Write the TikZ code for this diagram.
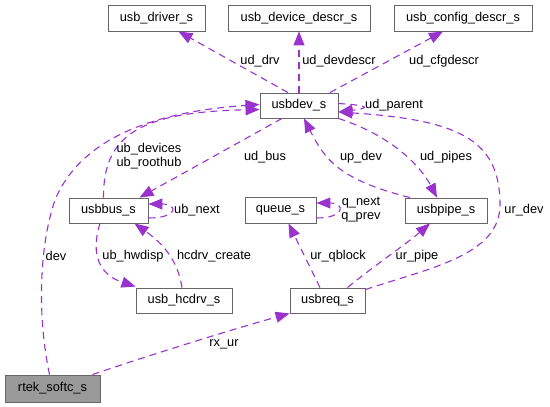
\documentclass[tikz,border=0pt]{standalone}
\usepackage{fontspec}
\setmainfont{Liberation Sans}
\usetikzlibrary{arrows.meta}
\definecolor{edgec}{HTML}{9A32CD}
\definecolor{boxc}{HTML}{666666}
\definecolor{fillc}{HTML}{999999}
\tikzset{
  cls/.style={draw=boxc, line width=0.9pt, fill=white, rectangle, inner sep=0pt,
    font=\fontsize{12.8}{14}\selectfont},
  lbl/.style={inner sep=0pt, font=\fontsize{12.8}{14}\selectfont, align=center},
  rel/.style={draw=edgec, line width=1.1pt, dash pattern=on 7pt off 5pt,
    -{Triangle[length=14pt,width=11pt]}, fill=none},
}
\begin{document}
\begin{tikzpicture}[x=1pt,y=-1pt]
\useasboundingbox (0,0) rectangle (550,407);
% nodes
\node[cls, minimum width=97pt, minimum height=26pt] (drv) at (156.5,18) {usb\_driver\_s};
\node[cls, minimum width=142pt, minimum height=26pt] (devd) at (299,18) {usb\_device\_descr\_s};
\node[cls, minimum width=138pt, minimum height=26pt] (cfgd) at (463,18) {usb\_config\_descr\_s};
\node[cls, minimum width=78pt, minimum height=25pt] (dev) at (299,105.5) {usbdev\_s};
\node[cls, minimum width=79pt, minimum height=25pt] (bus) at (108.5,210.5) {usbbus\_s};
\node[cls, minimum width=71pt, minimum height=26pt] (queue) at (280.5,210) {queue\_s};
\node[cls, minimum width=82pt, minimum height=25pt] (pipe) at (446,210.5) {usbpipe\_s};
\node[cls, minimum width=96pt, minimum height=25pt] (hcd) at (184,300.5) {usb\_hcdrv\_s};
\node[cls, minimum width=75pt, minimum height=25pt] (req) at (327.5,300.5) {usbreq\_s};
\node[cls, fill=fillc, minimum width=95pt, minimum height=27pt] (rtek) at (52.5,388.5) {rtek\_softc\_s};
% edges
\draw[rel] ([xshift=-11pt]dev.north) -- ([xshift=22pt]drv.south);
\draw[rel] (dev.north) -- (devd.south);
\draw[rel] ([xshift=31pt]dev.north) -- ([xshift=-20pt]cfgd.south);
\draw[rel] ([yshift=2pt]dev.east) .. controls +(32,2) and +(32,-4) .. ([yshift=-6.5pt]dev.east);
\draw[rel] ([xshift=-17pt]dev.south) -- ([xshift=31pt]bus.north);
\draw[rel] ([xshift=-5pt]bus.north) .. controls (103,135) and (140,112) .. ([yshift=-4pt]dev.west);
\draw[rel] ([xshift=-3pt]rtek.north) .. controls (38,320) and (38,250) .. (55,200)
   .. controls (80,140) and (150,112) .. ([yshift=1pt]dev.west);
\draw[rel] ([yshift=-7.5pt]bus.east) .. controls +(30,0) and +(30,0) .. ([yshift=6.5pt]bus.east);
\draw[rel] ([xshift=-8.5pt]bus.south) .. controls (90,255) and (100,275) .. ([yshift=1pt]hcd.north west);
\draw[rel] ([xshift=-2pt]hcd.north) .. controls (178,262) and (165,245) .. ([xshift=26pt]bus.south);
\draw[rel] ([xshift=-36pt]pipe.north) .. controls (340,180) and (325,160) .. ([xshift=5pt]dev.south);
\draw[rel] (dev.south east) .. controls (390,135) and (420,165) .. ([xshift=-9pt]pipe.north);
\draw[rel] ([yshift=-8pt]queue.east) .. controls +(29,0) and +(29,0) .. ([yshift=7pt]queue.east);
\draw[rel] ([xshift=-7.5pt]req.north) -- ([xshift=8pt]queue.south);
\draw[rel] ([xshift=20pt]req.north) .. controls (375,265) and (405,245) .. ([xshift=-16pt]pipe.south);
\draw[rel] ([yshift=-2pt]req.north east) .. controls (430,268) and (500,255) .. (500,205)
   .. controls (500,140) and (460,120) .. ([yshift=-6.5pt]dev.east);
\draw[rel] ([xshift=40pt]rtek.north) .. controls (150,355) and (230,330) .. (req.south west);
% labels
\node[lbl] (l1) at (260,61) {ud\_drv};
\node[lbl] (l2) at (339,61) {ud\_devdescr};
\node[lbl] (l3) at (444,61) {ud\_cfgdescr};
\node[lbl] (l4) at (394,105) {ud\_parent};
\node[lbl] (l5) at (149,156) {ub\_devices\\ub\_roothub};
\node[lbl] (l6) at (265,157) {ud\_bus};
\node[lbl] (l7) at (361,157) {up\_dev};
\node[lbl] (l8) at (446,157) {ud\_pipes};
\node[lbl] (l9) at (197,210) {ub\_next};
\node[lbl] (l10) at (361,210) {q\_next\\q\_prev};
\node[lbl] (l11) at (524,210) {ur\_dev};
\node[lbl] (l12) at (56,256) {dev};
\node[lbl] (l13) at (133,256) {ub\_hwdisp};
\node[lbl] (l14) at (214,256) {hcdrv\_create};
\node[lbl] (l15) at (338,256) {ur\_qblock};
\node[lbl] (l16) at (417,256) {ur\_pipe};
\node[lbl] (l17) at (224,344) {rx\_ur};
\end{tikzpicture}
\end{document}
